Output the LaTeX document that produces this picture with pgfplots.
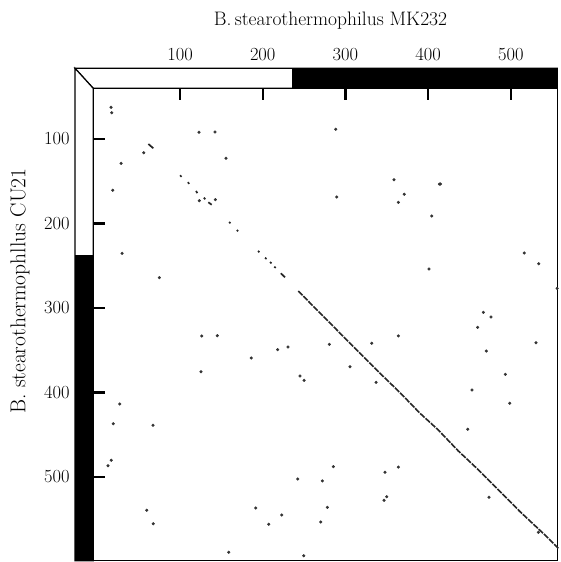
\documentclass[border=0pt]{standalone}
\usepackage{fontspec}
\usepackage{pgfplots}
\pgfplotsset{compat=1.18}
\begin{document}
\begin{tikzpicture}
\begin{axis}[
  scale only axis, width=464pt, height=472.4pt,
  xmin=-5, xmax=556, ymin=40, ymax=599, y dir=reverse,
  clip=false,
  axis line style={line width=1.2pt},
  xtick={100,200,300,400,500}, ytick={100,200,300,400,500},
  xtick pos=right, xticklabel pos=right,
  ytick pos=left, yticklabel pos=left,
  tick align=inside, major tick length=12pt,
  tick style={line width=2.4pt, black},
  xticklabel shift=24pt, yticklabel shift=20pt,
  /pgf/number format/assume math mode=true,
  ticklabel style={font=\fontsize{18.5}{20}\selectfont},
]
% frame bars
\filldraw[fill=white, draw=black, line width=1.2pt] (axis cs:-27,16.3) -- (axis cs:556,16.3) -- (axis cs:556,40) -- (axis cs:-5,40) -- cycle;
\fill[black] (axis cs:235.4,16.3) rectangle (axis cs:556,40);
\filldraw[fill=white, draw=black, line width=1.2pt] (axis cs:-27,16.3) -- (axis cs:-5,40) -- (axis cs:-5,599) -- (axis cs:-27,599) -- cycle;
\fill[black] (axis cs:-27,237.3) rectangle (axis cs:-5,599);

% main diagonal
\addplot[line width=1.6pt, black!85, dash pattern=on 6pt off 1.2pt] coordinates {
(243,279.9) (273.3,310) (288.6,325) (309.6,345.8) (337.8,373.4) (366,400.2) (390.2,424.6)
(412.3,444.4) (436.5,469.2) (458.8,489.7) (483,513.4) (511.1,541) (543.4,570.6) (557.4,584.4)};
% short diagonal fragments
\addplot[line width=1.7pt, black!85, unbounded coords=jump] coordinates {
(61.7,105.9) (67.7,111) (nan,nan)
(100,143) (101.8,144.7) (nan,nan)
(109.3,151.2) (111.2,153) (nan,nan)
(119.3,161.5) (121,164) (nan,nan)
(128.7,169.5) (130.6,171.2) (nan,nan)
(134.2,174.9) (138.3,177.8) (nan,nan)
(159.3,198.2) (161,199.7) (nan,nan)
(168.6,207.7) (170.3,209.2) (nan,nan)
(194.3,232.5) (196,234) (nan,nan)
(202.8,240.5) (204.6,242) (nan,nan)
(208.8,245.6) (210.6,247.1) (nan,nan)
(214,251.1) (215.7,252.6) (nan,nan)
(221.8,258.9) (227,263.7)};
% scattered matches
\addplot[only marks, mark=*, mark size=1.35pt, black!80] coordinates {
(16.6,62.5) (17.4,68.9) (123,92) (142.3,91.7) (56.1,116.2) (28.7,128.8) (155.6,122.8)
(123.3,173) (142.7,171.8) (18.6,160.7) (29.9,235.3) (75,264.1)
(288.3,88.5) (358.8,148.2) (413.6,153.3) (415,153.3) (371.2,165.4) (364,174.9) (289.5,168.6)
(404.3,191.1) (516.3,234.9) (533.7,247.6) (401.1,253.8) (556,276.7) (466.8,305.1) (476,310.7)
(126.2,333.1) (145.1,332.8) (218.1,349.3) (230.6,346.2) (186.2,359.2) (125.4,375.4)
(245.1,380.5) (250,385.6) (280.5,343) (27.1,413.6) (19.3,436.9) (67.4,438.8) (16.9,480.2)
(12.9,486.6) (242.3,502.4) (272.1,504.7) (59.7,539.4) (67.7,555.3) (191.5,536.7) (223,545)
(207.3,556) (270.1,553.3) (278.1,535.9) (158.9,589.1) (249.6,593.1)
(331.8,341.8) (364,333.1) (305.6,369.5) (337,388) (459.9,322.9) (470.4,350.9) (530.5,341.1)
(493.3,378.5) (453.1,397) (498.7,412.8) (447.9,443.6) (285.4,487.8) (347.9,494.4) (364,488.2)
(349.9,523.3) (346.7,527.6) (473.6,524) (533.3,565.4)};

\node[font=\fontsize{19.5}{22}\selectfont] at (axis cs:282,-39.5) {B.\,stearothermophilus MK232};
\node[rotate=90, font=\fontsize{21.5}{24}\selectfont] at (axis cs:-93.5,280) {B.\ stearothermophllus CU21};
\coordinate (bbA) at (axis cs:-117.7,-64.5);
\coordinate (bbB) at (axis cs:560.6,600.6);
\end{axis}
\pgfresetboundingbox
\path (bbA) rectangle (bbB);
\end{tikzpicture}
\end{document}
